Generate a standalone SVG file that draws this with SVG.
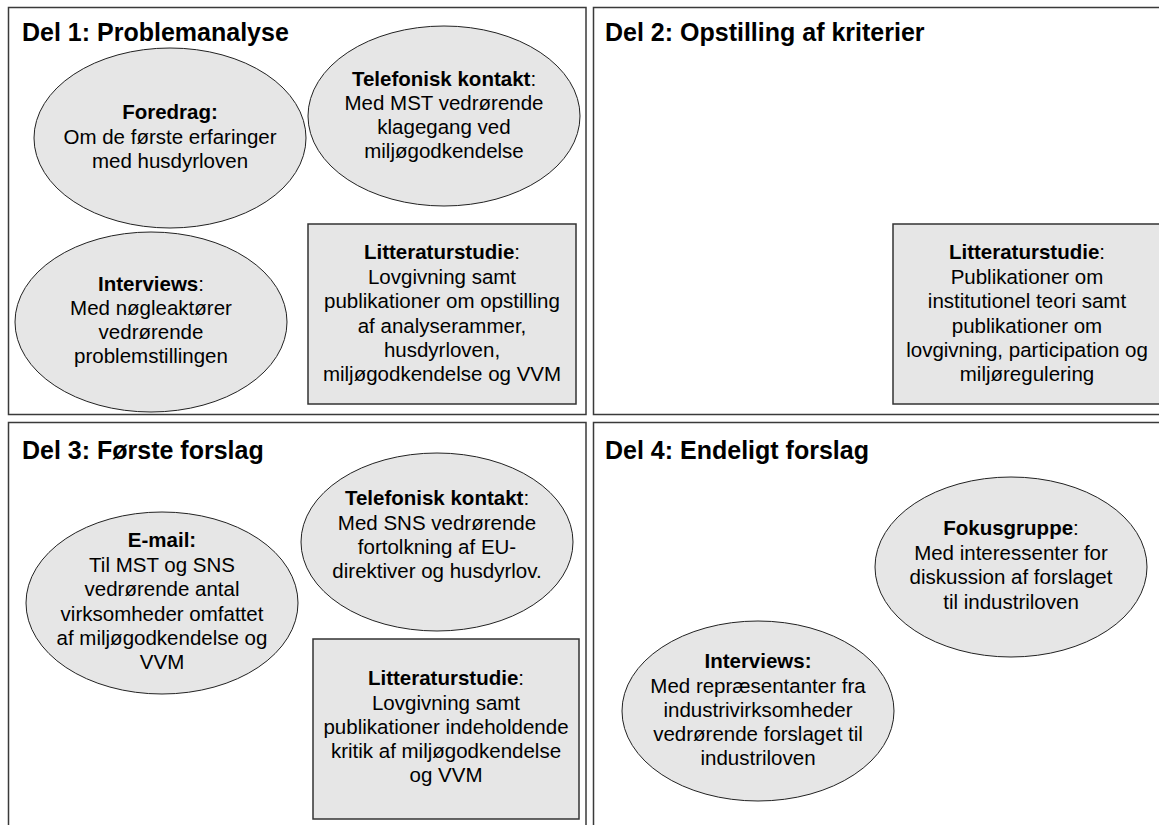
<svg xmlns="http://www.w3.org/2000/svg" width="1159" height="825" viewBox="0 0 1159 825">
<style>
.panel{fill:#fff;stroke:#3a3a3a;stroke-width:1.5}
.ell{fill:#e6e6e6;stroke:#222;stroke-width:1}
.box{fill:#e6e6e6;stroke:#333;stroke-width:1.5}
.title{font-family:"Liberation Sans",Arial,sans-serif;font-size:25px;font-weight:bold;fill:#000}
.t{font-family:"Liberation Sans",Arial,sans-serif;font-size:20.5px;fill:#000;text-anchor:middle}
.b{font-weight:bold}
</style>
<rect width="1159" height="825" fill="#fff"/>
<g id="panel1">
<rect class="panel" x="8.5" y="7.5" width="577.5" height="407"/>
<text class="title" x="22" y="41">Del 1: Problemanalyse</text>
</g>
<g id="panel2">
<rect class="panel" x="593.5" y="7.5" width="620" height="407"/>
<text class="title" x="605" y="41">Del 2: Opstilling af kriterier</text>
</g>
<g id="panel3">
<rect class="panel" x="8.5" y="422.5" width="577.5" height="450"/>
<text class="title" x="22" y="459">Del 3: Første forslag</text>
</g>
<g id="panel4">
<rect class="panel" x="593.5" y="422.5" width="620" height="450"/>
<text class="title" x="605" y="459">Del 4: Endeligt forslag</text>
</g>
<g id="connectors"></g>
<g id="p1-foredrag">
<ellipse class="ell" cx="170" cy="138" rx="136" ry="90"/>
<text class="t" x="170" y="119"><tspan class="b">Foredrag:</tspan><tspan x="170" y="144">Om de første erfaringer</tspan><tspan x="170" y="168">med husdyrloven</tspan></text>
</g>
<g id="p1-telefon">
<ellipse class="ell" cx="444" cy="116" rx="136" ry="90"/>
<text class="t" x="444" y="86"><tspan class="b">Telefonisk kontakt</tspan>:<tspan x="444" y="110">Med MST vedrørende</tspan><tspan x="444" y="134">klagegang ved</tspan><tspan x="444" y="158">miljøgodkendelse</tspan></text>
</g>
<g id="p1-interviews">
<ellipse class="ell" cx="151" cy="322" rx="136" ry="90"/>
<text class="t" x="151" y="291"><tspan class="b">Interviews</tspan>:<tspan x="151" y="315">Med nøgleaktører</tspan><tspan x="151" y="339">vedrørende</tspan><tspan x="151" y="363">problemstillingen</tspan></text>
</g>
<g id="p1-litteratur">
<rect class="box" x="308" y="224" width="268" height="180"/>
<text class="t" x="442" y="259"><tspan class="b">Litteraturstudie</tspan>:<tspan x="442" y="284">Lovgivning samt</tspan><tspan x="442" y="308">publikationer om opstilling</tspan><tspan x="442" y="333">af analyserammer,</tspan><tspan x="442" y="357">husdyrloven,</tspan><tspan x="442" y="381">miljøgodkendelse og VVM</tspan></text>
</g>
<g id="p2-litteratur">
<rect class="box" x="893" y="224" width="268" height="180"/>
<text class="t" x="1027" y="259"><tspan class="b">Litteraturstudie</tspan>:<tspan x="1027" y="284">Publikationer om</tspan><tspan x="1027" y="308">institutionel teori samt</tspan><tspan x="1027" y="333">publikationer om</tspan><tspan x="1027" y="357">lovgivning, participation og</tspan><tspan x="1027" y="381">miljøregulering</tspan></text>
</g>
<g id="p3-email">
<ellipse class="ell" cx="162" cy="603" rx="136" ry="91"/>
<text class="t" x="162" y="547"><tspan class="b">E-mail:</tspan><tspan x="162" y="572">Til MST og SNS</tspan><tspan x="162" y="596">vedrørende antal</tspan><tspan x="162" y="621">virksomheder omfattet</tspan><tspan x="162" y="645">af miljøgodkendelse og</tspan><tspan x="162" y="669">VVM</tspan></text>
</g>
<g id="p3-telefon">
<ellipse class="ell" cx="437" cy="542" rx="136" ry="89"/>
<text class="t" x="437" y="505"><tspan class="b">Telefonisk kontakt</tspan>:<tspan x="437" y="530">Med SNS vedrørende</tspan><tspan x="437" y="554">fortolkning af EU-</tspan><tspan x="437" y="578">direktiver og husdyrlov.</tspan></text>
</g>
<g id="p3-litteratur">
<rect class="box" x="313" y="639" width="266" height="180"/>
<text class="t" x="446" y="685"><tspan class="b">Litteraturstudie</tspan>:<tspan x="446" y="710">Lovgivning samt</tspan><tspan x="446" y="734">publikationer indeholdende</tspan><tspan x="446" y="758">kritik af miljøgodkendelse</tspan><tspan x="446" y="782">og VVM</tspan></text>
</g>
<g id="p4-fokus">
<ellipse class="ell" cx="1011" cy="567" rx="136" ry="90"/>
<text class="t" x="1011" y="535"><tspan class="b">Fokusgruppe</tspan>:<tspan x="1011" y="560">Med interessenter for</tspan><tspan x="1011" y="584">diskussion af forslaget</tspan><tspan x="1011" y="609">til industriloven</tspan></text>
</g>
<g id="p4-interviews">
<ellipse class="ell" cx="758" cy="711" rx="136" ry="90"/>
<text class="t" x="758" y="668"><tspan class="b">Interviews:</tspan><tspan x="758" y="693">Med repræsentanter fra</tspan><tspan x="758" y="717">industrivirksomheder</tspan><tspan x="758" y="741">vedrørende forslaget til</tspan><tspan x="758" y="765">industriloven</tspan></text>
</g>
</svg>
